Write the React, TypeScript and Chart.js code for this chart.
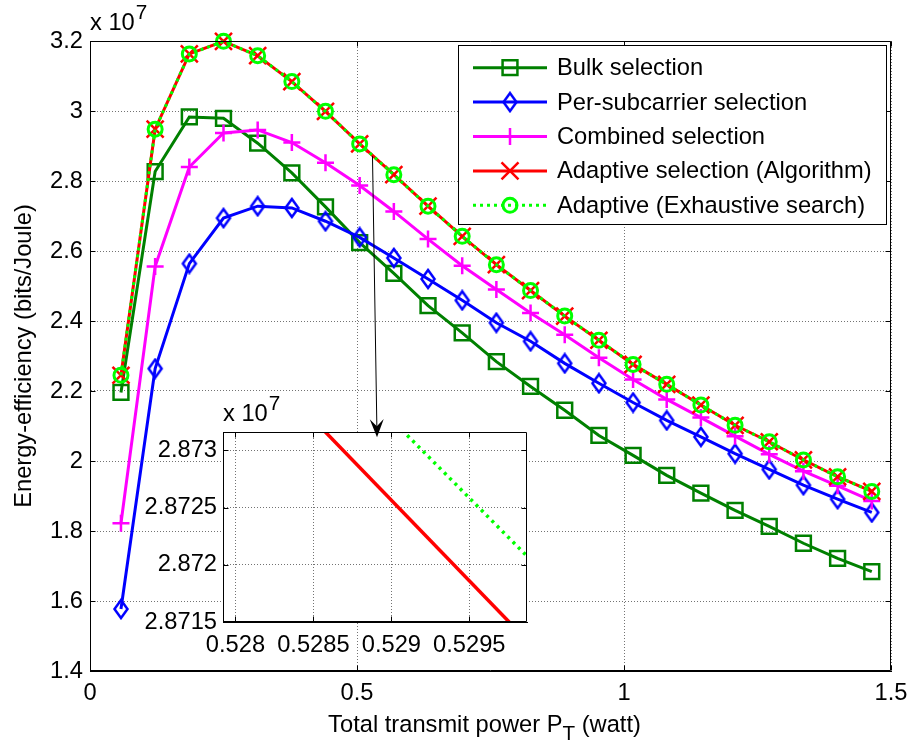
import React, { useEffect, useRef } from "react";
import { Chart, registerables } from "chart.js";
import { drawPoint } from "chart.js/helpers";

Chart.register(...registerables);

const FONT = '"Liberation Sans", Arial, Helvetica, sans-serif';
const FS = 23.7;

// ---------- data (energy-efficiency in units of 1e7 bits/Joule) ----------
const powerW = [0.058, 0.122, 0.186, 0.25, 0.314, 0.378, 0.441, 0.505, 0.569, 0.633, 0.697, 0.761, 0.825, 0.889, 0.953, 1.017, 1.08, 1.144, 1.208, 1.272, 1.336, 1.4, 1.464];
const bulkEE = [2.196, 2.827, 2.983, 2.979, 2.908, 2.823, 2.726, 2.624, 2.536, 2.444, 2.366, 2.284, 2.213, 2.145, 2.073, 2.016, 1.959, 1.908, 1.859, 1.813, 1.765, 1.722, 1.684];
const perSubEE = [1.577, 2.264, 2.564, 2.694, 2.728, 2.723, 2.685, 2.639, 2.58, 2.52, 2.459, 2.395, 2.342, 2.279, 2.222, 2.167, 2.116, 2.069, 2.021, 1.976, 1.931, 1.891, 1.853];
const combinedEE = [1.822, 2.556, 2.84, 2.937, 2.946, 2.91, 2.852, 2.787, 2.713, 2.634, 2.558, 2.49, 2.423, 2.361, 2.295, 2.233, 2.176, 2.124, 2.071, 2.019, 1.971, 1.929, 1.886];
const adaptiveAlgEE = [2.245, 2.948, 3.163, 3.199, 3.158, 3.084, 2.999, 2.906, 2.818, 2.728, 2.642, 2.561, 2.487, 2.414, 2.345, 2.276, 2.219, 2.16, 2.102, 2.055, 2.003, 1.955, 1.913];
const adaptiveExhEE = [2.245, 2.948, 3.163, 3.199, 3.158, 3.084, 2.999, 2.906, 2.818, 2.728, 2.642, 2.561, 2.487, 2.414, 2.345, 2.276, 2.219, 2.16, 2.102, 2.055, 2.003, 1.955, 1.913];

const seriesLabels = [
  "Bulk selection",
  "Per-subcarrier selection",
  "Combined selection",
  "Adaptive selection (Algorithm)",
  "Adaptive (Exhaustive search)",
];

const xMin = 0, xMax = 1.5;
const yMin = 1.4, yMax = 3.2;
const xTicks = [0, 0.5, 1, 1.5];
const yTicks = [1.4, 1.6, 1.8, 2, 2.2, 2.4, 2.6, 2.8, 3, 3.2];

// inset (zoom around P_T = 0.529 W)
const insetXMin = 0.52792, insetXMax = 0.52987;
const insetYMin = 2.8715, insetYMax = 2.87316;
const insetXTicks = [0.528, 0.5285, 0.529, 0.5295];
const insetYTicks = [2.8715, 2.872, 2.8725, 2.873];
const insetAlgX = [0.5285, 0.53];
const insetAlgY = [2.873268, 2.871156];
const insetExhX = [0.529, 0.53];
const insetExhY = [2.873271, 2.871897];

// arrow annotation (main-axes data coordinates)
const arrowFrom = { x: 0.529, y: 2.871 };
const arrowTo = { x: 0.5375, y: 2.068 };

const yTitle = "Energy-efficiency (bits/Joule)";
const xTitleMain = "Total transmit power P";
const xTitleSub = "T";
const xTitleTail = " (watt)";
const expBase = "x 10";
const expPow = "7";

const fmt = (v: number) => String(Number(Number(v).toFixed(5)));

function drawBoxTicks(chart: any, xt: number[], yt: number[], len: number) {
  const { ctx, chartArea: a, scales } = chart;
  const L = Math.round(a.left) + 0.5, R = Math.round(a.right) - 0.5;
  const T = Math.round(a.top) + 0.5, B = Math.round(a.bottom) - 0.5;
  ctx.save();
  ctx.setLineDash([]);
  ctx.strokeStyle = "#000";
  ctx.lineWidth = 1;
  ctx.beginPath();
  ctx.rect(L, T, R - L, B - T);
  for (const v of xt) {
    const p = Math.round(scales.x.getPixelForValue(v)) + 0.5;
    ctx.moveTo(p, B); ctx.lineTo(p, B - len);
    ctx.moveTo(p, T); ctx.lineTo(p, T + len);
  }
  for (const v of yt) {
    const p = Math.round(scales.y.getPixelForValue(v)) + 0.5;
    ctx.moveTo(L, p); ctx.lineTo(L + len, p);
    ctx.moveTo(R, p); ctx.lineTo(R - len, p);
  }
  ctx.stroke();
  // exponent label
  ctx.fillStyle = "#000";
  ctx.textAlign = "left";
  ctx.textBaseline = "alphabetic";
  ctx.font = `${FS}px ${FONT}`;
  const w = ctx.measureText(expBase).width;
  ctx.fillText(expBase, a.left, a.top - 11);
  ctx.font = `${FS - 3}px ${FONT}`;
  ctx.fillText(expPow, a.left + w + 1, a.top - 22);
  ctx.restore();
}

export default function App() {
  const mainRef = useRef<HTMLCanvasElement>(null);
  const insetRef = useRef<HTMLCanvasElement>(null);

  useEffect(() => {
    // diamond marker image (taller than wide, like MATLAB 'd')
    const diamond = document.createElement("canvas");
    diamond.width = 18; diamond.height = 22;
    const dctx = diamond.getContext("2d")!;
    dctx.strokeStyle = "rgb(0,0,255)";
    dctx.lineWidth = 2.5;
    dctx.beginPath();
    dctx.moveTo(9, 2); dctx.lineTo(15.5, 11); dctx.lineTo(9, 20); dctx.lineTo(2.5, 11); dctx.closePath();
    dctx.stroke();

    const pts = (xs: number[], ys: number[]) => xs.map((x, i) => ({ x, y: ys[i] }));
    const base = (color: string) => ({
      borderColor: color,
      backgroundColor: "rgba(0,0,0,0)",
      pointBorderColor: color,
      pointBackgroundColor: "rgba(0,0,0,0)",
      borderWidth: 3,
      tension: 0,
      clip: 20,
      pointBorderWidth: 2.5,
    });

    const datasets: any[] = [
      { label: seriesLabels[0], data: pts(powerW, bulkEE), ...base("rgb(0,128,0)"), pointStyle: "rect", pointRadius: 10.5, order: 5 },
      { label: seriesLabels[1], data: pts(powerW, perSubEE), ...base("rgb(0,0,255)"), pointStyle: diamond, pointRadius: 9, order: 4 },
      { label: seriesLabels[2], data: pts(powerW, combinedEE), ...base("rgb(255,0,255)"), pointStyle: "cross", pointRadius: 8.5, order: 3 },
      { label: seriesLabels[3], data: pts(powerW, adaptiveAlgEE), ...base("rgb(255,0,0)"), pointStyle: "crossRot", pointRadius: 12, order: 2 },
      { label: seriesLabels[4], data: pts(powerW, adaptiveExhEE), ...base("rgb(0,255,0)"), borderDash: [3, 4], pointStyle: "circle", pointRadius: 7, pointBorderWidth: 3, order: 1 },
    ];

    const tickFont = { family: FONT, size: FS };
    const grid = { color: "rgba(0,0,0,0.55)", lineWidth: 1, drawTicks: false };
    const border = { display: true, color: "#000", width: 1, dash: [1, 2] };

    const mainPlugin = {
      id: "mainDecor",
      afterDraw(chart: any) {
        const { ctx, chartArea: a } = chart;
        drawBoxTicks(chart, xTicks, yTicks, 5);
        ctx.save();
        ctx.fillStyle = "#000";
        // x title with subscript
        ctx.font = `${FS}px ${FONT}`;
        const w1 = ctx.measureText(xTitleMain).width;
        const w3 = ctx.measureText(xTitleTail).width;
        ctx.font = `${FS - 3}px ${FONT}`;
        const w2 = ctx.measureText(xTitleSub).width;
        const cx = (a.left + a.right) / 2 - 6;
        const sx = cx - (w1 + w2 + w3) / 2;
        const by = a.bottom + 61;
        ctx.textAlign = "left";
        ctx.textBaseline = "alphabetic";
        ctx.font = `${FS}px ${FONT}`;
        ctx.fillText(xTitleMain, sx, by);
        ctx.fillText(xTitleTail, sx + w1 + w2, by);
        ctx.font = `${FS - 3}px ${FONT}`;
        ctx.fillText(xTitleSub, sx + w1, by + 8);
        // y title
        ctx.save();
        ctx.translate(24, (a.top + a.bottom) / 2);
        ctx.rotate(-Math.PI / 2);
        ctx.textAlign = "center";
        ctx.textBaseline = "middle";
        ctx.font = `${FS}px ${FONT}`;
        ctx.fillText(yTitle, 0, 0);
        ctx.restore();
        // legend
        const lx = a.right - 433, ly = a.top + 4, lw = 428, lh = 179;
        ctx.fillStyle = "#fff";
        ctx.fillRect(lx, ly, lw, lh);
        ctx.strokeStyle = "#000";
        ctx.lineWidth = 1;
        ctx.setLineDash([]);
        ctx.strokeRect(Math.round(lx) + 0.5, Math.round(ly) + 0.5, lw, lh);
        chart.data.datasets.forEach((ds: any, i: number) => {
          const yy = ly + 22.7 + i * 34.4;
          ctx.save();
          ctx.strokeStyle = ds.borderColor;
          ctx.lineWidth = ds.borderWidth;
          ctx.setLineDash(ds.borderDash || []);
          ctx.beginPath();
          ctx.moveTo(lx + 15, yy);
          ctx.lineTo(lx + 89, yy);
          ctx.stroke();
          ctx.setLineDash([]);
          ctx.strokeStyle = ds.pointBorderColor;
          ctx.fillStyle = "rgba(0,0,0,0)";
          ctx.lineWidth = ds.pointBorderWidth;
          drawPoint(ctx, { pointStyle: ds.pointStyle, radius: ds.pointRadius, borderWidth: ds.pointBorderWidth, rotation: 0 }, lx + 52, yy);
          ctx.restore();
          ctx.fillStyle = "#000";
          ctx.font = `${FS}px ${FONT}`;
          ctx.textAlign = "left";
          ctx.textBaseline = "middle";
          ctx.fillText(ds.label, lx + 99, yy + 1);
        });
        ctx.restore();
      },
    };

    const main = new Chart(mainRef.current!, {
      type: "line",
      data: { datasets },
      options: {
        responsive: false,
        animation: false,
        events: [],
        layout: { padding: { top: 41, right: 16, left: 0, bottom: 0 } },
        plugins: { legend: { display: false }, tooltip: { enabled: false } },
        scales: {
          x: {
            type: "linear", min: xMin, max: xMax,
            afterBuildTicks: (s: any) => { s.ticks = xTicks.map((v) => ({ value: v })); },
            afterFit: (s: any) => { s.height = 75; s.paddingLeft = 0; s.paddingRight = 0; },
            grid, border,
            ticks: { padding: 8, color: "#000", font: tickFont, maxRotation: 0, autoSkip: false, callback: (v: any) => fmt(v) },
          },
          y: {
            type: "linear", min: yMin, max: yMax,
            afterBuildTicks: (s: any) => { s.ticks = yTicks.map((v) => ({ value: v })); },
            afterFit: (s: any) => { s.width = 90; s.paddingTop = 0; s.paddingBottom = 0; },
            grid, border,
            ticks: { padding: 7, color: "#000", font: tickFont, autoSkip: false, callback: (v: any) => fmt(v) },
          },
        },
      } as any,
      plugins: [mainPlugin],
    });

    const insetPlugin = {
      id: "insetDecor",
      beforeDraw(chart: any) {
        const { ctx, chartArea: a } = chart;
        ctx.save();
        ctx.fillStyle = "#fff";
        ctx.fillRect(a.left, a.top, a.right - a.left, a.bottom - a.top);
        ctx.restore();
      },
      afterDraw(chart: any) {
        const { ctx } = chart;
        drawBoxTicks(chart, insetXTicks, insetYTicks, 5);
        // arrow from main curve to inset
        const mx = main.scales.x, my = main.scales.y;
        const x0 = mx.getPixelForValue(arrowFrom.x), y0 = my.getPixelForValue(arrowFrom.y);
        const x1 = mx.getPixelForValue(arrowTo.x), y1 = my.getPixelForValue(arrowTo.y);
        const ang = Math.atan2(y1 - y0, x1 - x0);
        const ux = Math.cos(ang), uy = Math.sin(ang);
        const px = -uy, py = ux;
        const headL = 18, headW = 7, notch = 11;
        ctx.save();
        ctx.strokeStyle = "#000";
        ctx.fillStyle = "#000";
        ctx.lineWidth = 1;
        ctx.beginPath();
        ctx.moveTo(x0, y0);
        ctx.lineTo(x1 - ux * notch, y1 - uy * notch);
        ctx.stroke();
        ctx.beginPath();
        ctx.moveTo(x1, y1);
        ctx.lineTo(x1 - ux * headL + px * headW, y1 - uy * headL + py * headW);
        ctx.lineTo(x1 - ux * notch, y1 - uy * notch);
        ctx.lineTo(x1 - ux * headL - px * headW, y1 - uy * headL - py * headW);
        ctx.closePath();
        ctx.fill();
        ctx.restore();
      },
    };

    const inset = new Chart(insetRef.current!, {
      type: "line",
      data: {
        datasets: [
          { label: seriesLabels[3], data: pts(insetAlgX, insetAlgY), borderColor: "rgb(255,0,0)", borderWidth: 3.5, pointRadius: 0, tension: 0, clip: 0, order: 2 },
          { label: seriesLabels[4], data: pts(insetExhX, insetExhY), borderColor: "rgb(0,255,0)", borderWidth: 3.5, borderDash: [3, 4.5], pointRadius: 0, tension: 0, clip: 0, order: 1 },
        ],
      },
      options: {
        responsive: false,
        animation: false,
        events: [],
        layout: { padding: { top: 432, right: 380, left: 0, bottom: 0 } },
        plugins: { legend: { display: false }, tooltip: { enabled: false } },
        scales: {
          x: {
            type: "linear", min: insetXMin, max: insetXMax,
            afterBuildTicks: (s: any) => { s.ticks = insetXTicks.map((v) => ({ value: v })); },
            afterFit: (s: any) => { s.height = 124; s.paddingLeft = 0; s.paddingRight = 0; },
            grid, border,
            ticks: { padding: 9, color: "#000", font: tickFont, maxRotation: 0, autoSkip: false, callback: (v: any) => fmt(v) },
          },
          y: {
            type: "linear", min: insetYMin, max: insetYMax,
            afterBuildTicks: (s: any) => { s.ticks = insetYTicks.map((v) => ({ value: v })); },
            afterFit: (s: any) => { s.width = 223; s.paddingTop = 0; s.paddingBottom = 0; },
            grid, border,
            ticks: { padding: 6, color: "#000", font: tickFont, autoSkip: false, callback: (v: any) => fmt(v) },
          },
        },
      } as any,
      plugins: [insetPlugin],
    });

    return () => {
      inset.destroy();
      main.destroy();
    };
  }, []);

  return (
    <div style={{ position: "absolute", left: 0, top: 0, width: 907, height: 746, background: "#fff" }}>
      <canvas ref={mainRef} width={907} height={746} style={{ position: "absolute", left: 0, top: 0 }} />
      <canvas ref={insetRef} width={907} height={746} style={{ position: "absolute", left: 0, top: 0, pointerEvents: "none" }} />
    </div>
  );
}
